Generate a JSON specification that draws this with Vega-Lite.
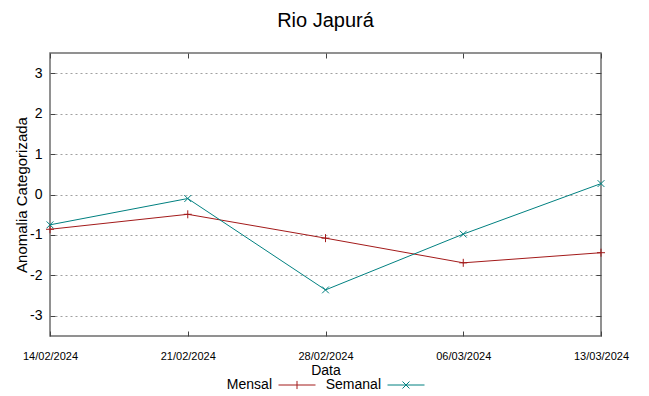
{
  "$schema": "https://vega.github.io/schema/vega-lite/v6.json",
  "width": 551,
  "height": 283,
  "autosize": {"type": "none"},
  "padding": {"left": 50, "top": 53, "right": 48, "bottom": 60},
  "background": "white",
  "title": {"text": "Rio Japurá", "fontSize": 20, "font": "Liberation Sans", "fontWeight": "normal", "color": "#000000", "offset": 22, "anchor": "middle"},
  "config": {"view": {"stroke": "#6e6e6e", "strokeWidth": 1.5}, "font": "Liberation Sans"},
  "data": {"values": [
    {"data": "14/02/2024", "serie": "Mensal", "valor": -0.86},
    {"data": "21/02/2024", "serie": "Mensal", "valor": -0.49},
    {"data": "28/02/2024", "serie": "Mensal", "valor": -1.08},
    {"data": "06/03/2024", "serie": "Mensal", "valor": -1.69},
    {"data": "13/03/2024", "serie": "Mensal", "valor": -1.44},
    {"data": "14/02/2024", "serie": "Semanal", "valor": -0.75},
    {"data": "21/02/2024", "serie": "Semanal", "valor": -0.10},
    {"data": "28/02/2024", "serie": "Semanal", "valor": -2.36},
    {"data": "06/03/2024", "serie": "Semanal", "valor": -0.98},
    {"data": "13/03/2024", "serie": "Semanal", "valor": 0.27}
  ]},
  "layer": [
    {
      "mark": {"type": "line", "strokeWidth": 1},
      "encoding": {
        "x": {"field": "data", "type": "ordinal", "sort": null, "scale": {"type": "point", "padding": 0},
          "axis": {"orient": "bottom", "title": "Data", "titleFontSize": 14, "titleFontWeight": "normal", "titleColor": "#000000", "titlePadding": 2,
            "labelAngle": 0, "labelFont": "Liberation Sans", "labelFontSize": 11, "labelColor": "#000000", "labelPadding": 19,
            "tickSize": -5, "tickColor": "#444444", "domain": false, "grid": false}},
        "y": {"field": "valor", "type": "quantitative", "scale": {"domain": [-3.5, 3.5], "nice": false, "zero": false},
          "axis": {"orient": "left", "values": [-3, -2, -1, 0, 1, 2, 3], "labelExpr": "replace(datum.label, '−', '-')", "title": "Anomalia Categorizada", "titleFontSize": 15, "titleFontWeight": "normal", "titleColor": "#000000", "titlePadding": 0,
            "labelFontSize": 14, "labelColor": "#000000", "labelPadding": 13, "tickSize": -5, "tickColor": "#444444", "domain": false,
            "grid": true, "gridDash": [2, 3], "gridColor": "#a0a0a0", "gridWidth": 1}},
        "color": {"field": "serie", "type": "nominal", "scale": {"domain": ["Mensal", "Semanal"], "range": ["#a31a1a", "#008080"]},
          "legend": {"orient": "none", "legendX": 228, "legendY": 313, "direction": "horizontal", "title": null, "labelFontSize": 14, "labelColor": "#000000",
            "labelAlign": "right", "labelOffset": -44, "labelLimit": 200, "symbolSize": 1369, "symbolStrokeWidth": 1, "columnPadding": 7, "padding": 0,
            "encode": {"symbols": {"update": {"shape": {"signal": "datum.value === 'Mensal' ? 'M-1,0H1M0,-0.22V0.22' : 'M-1,0H1M-0.19,-0.19L0.19,0.19M-0.19,0.19L0.19,-0.19'"}, "fill": {"value": "transparent"}}}}}}
      }
    },
    {
      "transform": [{"filter": "datum.serie === 'Mensal'"}],
      "mark": {"type": "point", "filled": false, "strokeWidth": 1, "size": 64, "opacity": 1, "shape": "M-1,0H1M0,-1V1"},
      "encoding": {
        "x": {"field": "data", "type": "ordinal", "sort": null,
          "axis": {"orient": "top", "labels": false, "title": null, "tickSize": -5, "tickColor": "#444444", "domain": false, "grid": false}},
        "y": {"field": "valor", "type": "quantitative",
          "axis": {"orient": "right", "values": [-3, -2, -1, 0, 1, 2, 3], "labels": false, "title": null, "tickSize": -5, "tickColor": "#444444", "domain": false, "grid": false}},
        "color": {"field": "serie", "type": "nominal"}
      }
    },
    {
      "transform": [{"filter": "datum.serie === 'Semanal'"}],
      "mark": {"type": "point", "filled": false, "strokeWidth": 1, "size": 64, "opacity": 1, "shape": "M-0.85,-0.85L0.85,0.85M-0.85,0.85L0.85,-0.85"},
      "encoding": {
        "x": {"field": "data", "type": "ordinal", "sort": null, "axis": null},
        "y": {"field": "valor", "type": "quantitative", "axis": null},
        "color": {"field": "serie", "type": "nominal"}
      }
    }
  ],
  "resolve": {"axis": {"x": "independent", "y": "independent"}}
}
